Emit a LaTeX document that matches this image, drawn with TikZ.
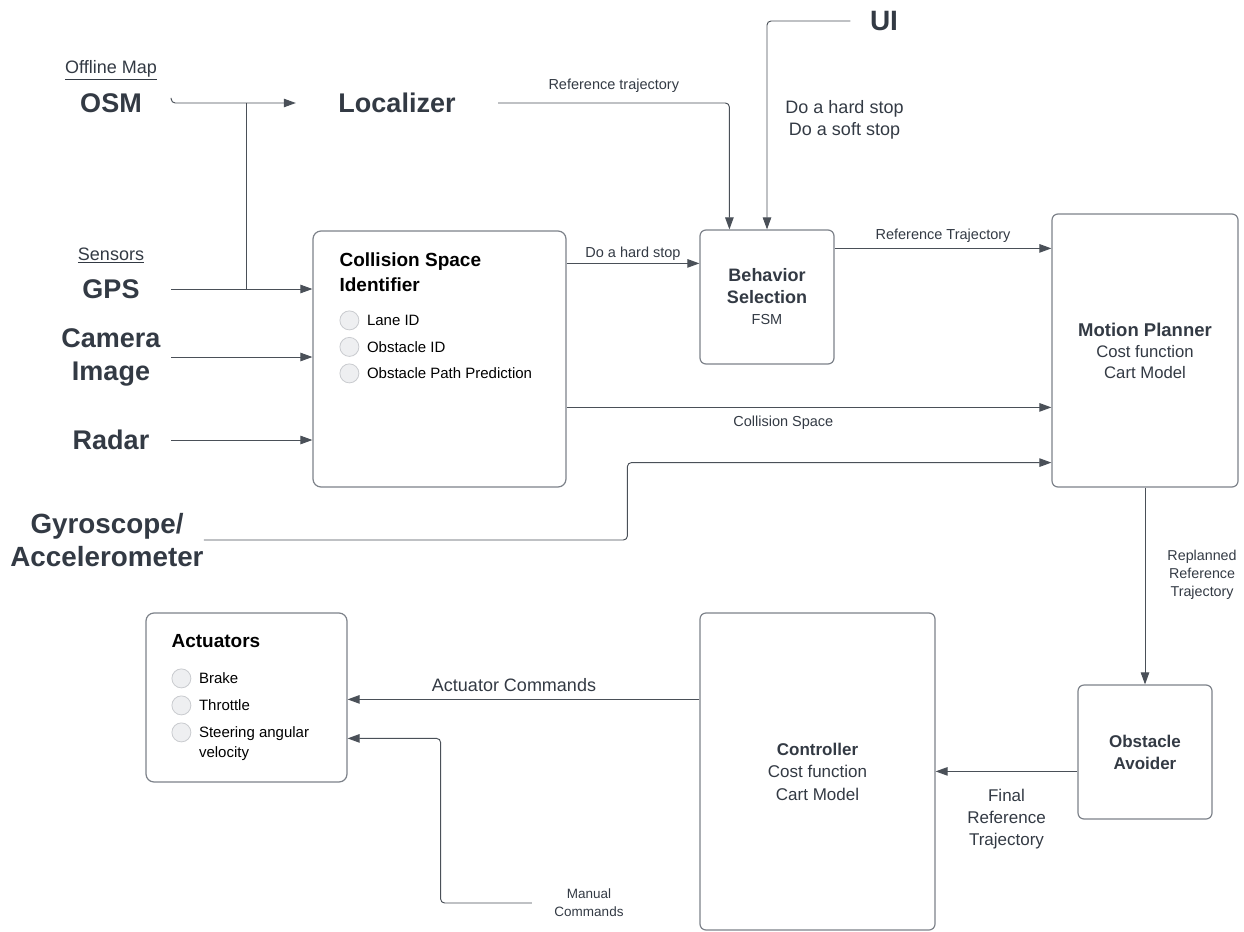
\documentclass[tikz,border=0pt]{standalone}
\usepackage{fontspec}
\setmainfont{Liberation Sans}
\usetikzlibrary{arrows.meta,positioning}

\definecolor{ink}{HTML}{333A44}
\definecolor{wiregray}{HTML}{4A5058}
\definecolor{boxgray}{HTML}{7D828A}
\definecolor{dotfill}{HTML}{EEEFF1}
\definecolor{dotline}{HTML}{C9CBCF}

\begin{document}
\begin{tikzpicture}[x=1pt, y=-1pt,
    block/.style={draw=boxgray, line width=1.2pt, rounded corners=6pt, fill=white,
      text=ink, align=center, inner sep=0pt},
    src/.style={text=ink, font=\fontsize{27}{33}\selectfont\bfseries,
      align=center, minimum width=120pt, inner sep=0pt},
    hdr/.style={text=ink, font=\fontsize{18}{22}\selectfont, inner sep=0pt},
    lbl/.style={text=ink, font=\fontsize{14.5}{18}\selectfont, align=center, inner sep=0pt},
    ttl/.style={text=black, font=\fontsize{19}{25}\selectfont\bfseries, align=left,
      inner sep=0pt, anchor=north west},
    dot/.style={circle, draw=dotline, fill=dotfill, line width=0.8pt,
      minimum size=19pt, inner sep=0pt},
    item/.style={text=black, font=\fontsize{15}{20}\selectfont, align=left,
      inner sep=0pt, anchor=north west},
    link/.style={draw=wiregray, line width=0.95pt, rounded corners=4pt},
    >={Triangle[length=12pt,width=8.5pt]}]
    \useasboundingbox (0,0) rectangle (1244,931);

    % inputs
    \node[hdr] (offmap) at (111,70) {\underline{Offline Map}};
    \node[src] (osm) at (111,103) {OSM};
    \node[hdr] (sensors) at (111,255) {\underline{Sensors}};
    \node[src] (gps) at (111,289) {GPS};
    \node[src] (cam) at (111,357) {Camera\\Image};
    \node[src] (radar) at (111,440) {Radar};
    \node[src, font=\fontsize{27.8}{33}\selectfont\bfseries, minimum width=0pt] (gyro) at (107,540) {Gyroscope/\\Accelerometer};
    \node[src, minimum width=202pt] (loc) at (397,103) {Localizer};
    \node[src, font=\fontsize{28}{33}\selectfont\bfseries, minimum width=67pt] (ui) at (884,21) {UI};

    % blocks
    \node[block, rounded corners=8pt, minimum width=253pt, minimum height=256pt] (csi) at (439.5,359) {};
    \node[block, minimum width=134pt, minimum height=134pt, font=\fontsize{18}{22}\selectfont] (bs) at (767,297)
      {\textbf{Behavior}\\\textbf{Selection}\\[-1pt]{\fontsize{14.5}{18}\selectfont FSM}};
    \node[block, minimum width=186pt, minimum height=273pt, font=\fontsize{16.7}{21}\selectfont] (mp) at (1145,350.5)
      {{\fontsize{18.5}{21}\selectfont\bfseries Motion Planner}\\Cost function\\Cart Model};
    \node[block, minimum width=134pt, minimum height=134pt, font=\fontsize{17}{22}\selectfont\bfseries] (oa) at (1145,752)
      {Obstacle\\Avoider};
    \node[block, minimum width=235pt, minimum height=317pt, font=\fontsize{17}{22.5}\selectfont] (ctl) at (817.5,771.5)
      {\textbf{Controller}\\Cost function\\Cart Model};
    \node[block, rounded corners=8pt, minimum width=201pt, minimum height=169pt] (act) at (246.5,697.5) {};
    \node[lbl, font=\fontsize{13.5}{18}\selectfont, minimum width=114pt] (man) at (589,903) {Manual\\Commands};

    % block contents
    \node[ttl] (csittl) at ([xshift=27pt,yshift=-22pt]csi.north west) {Collision Space\\Identifier};
    \foreach \t [count=\i] in {Lane ID, Obstacle ID, Obstacle Path Prediction} {
      \node[dot] (cd\i) at ([xshift=37pt,yshift={-90pt-26.5pt*(\i-1)}]csi.north west) {};
      \node[item] at ([xshift=7.5pt,yshift=5.5pt]cd\i.east) {\t};
    }
    \node[ttl] (actttl) at ([xshift=26pt,yshift=-22pt]act.north west) {Actuators};
    \foreach \t [count=\i] in {Brake, Throttle, {Steering angular\\velocity}} {
      \node[dot] (ad\i) at ([xshift=36pt,yshift={-66pt-27pt*(\i-1)}]act.north west) {};
      \node[item] at ([xshift=7.5pt,yshift=5.5pt]ad\i.east) {\t};
    }

    % connectors
    \coordinate (jn) at (246,0);
    \draw[link,->] ([yshift=5pt]osm.east) |- (loc.west);
    \draw[link] (jn |- loc.west) -- (jn |- gps.east);
    \draw[link,->] (gps.east) -- (gps.east -| csi.west);
    \draw[link,->] (cam.east) -- (cam.east -| csi.west);
    \draw[link,->] (radar.east) -- (radar.east -| csi.west);

    \draw[link,->] (loc.east) -| ([xshift=30pt]bs.north west)
      node[lbl, pos=0.25, above=10pt] {Reference trajectory};
    \draw[link,->] (ui.west) -| (bs.north)
      node[hdr, align=center, pos=0.736, right=18pt] {Do a hard stop\\Do a soft stop};

    \coordinate (csiout) at ([yshift=-33pt]csi.north east);
    \draw[link,->] (csiout) -- (csiout -| bs.west)
      node[lbl, midway, above=2pt] {Do a hard stop};
    \coordinate (bsout) at ([yshift=-19pt]bs.north east);
    \draw[link,->] (bsout) -- (bsout -| mp.west)
      node[lbl, midway, above=5pt] {Reference Trajectory};
    \coordinate (csispace) at ([yshift=-177pt]csi.north east);
    \draw[link,->] (csispace) -- (csispace -| mp.west)
      node[lbl, pos=0.447, below=8pt] {Collision Space};
    \draw[link,->] (gyro.east) -| ([xshift=-424pt,yshift=25pt]mp.south west) -- ([yshift=25pt]mp.south west);

    \draw[link,->] (mp.south) -- (oa.north)
      node[lbl, font=\fontsize{14.3}{18}\selectfont, pos=0.444, right=22pt] {Replanned\\Reference\\Trajectory};
    \coordinate (oaout) at ([yshift=-87pt]oa.north west);
    \draw[link,->] (oaout) -- (oaout -| ctl.east)
      node[hdr, font=\fontsize{17}{22}\selectfont, align=center, midway, below=17pt] {Final\\Reference\\Trajectory};
    \coordinate (ctlout) at ([yshift=-87pt]ctl.north west);
    \draw[link,->] (ctlout) -- (ctlout -| act.east)
      node[hdr, pos=0.527, above=7pt] {Actuator Commands};
    \draw[link,->] (man.west) -| ([xshift=93pt,yshift=-126pt]act.north east) -- ([yshift=-126pt]act.north east);
\end{tikzpicture}
\end{document}
